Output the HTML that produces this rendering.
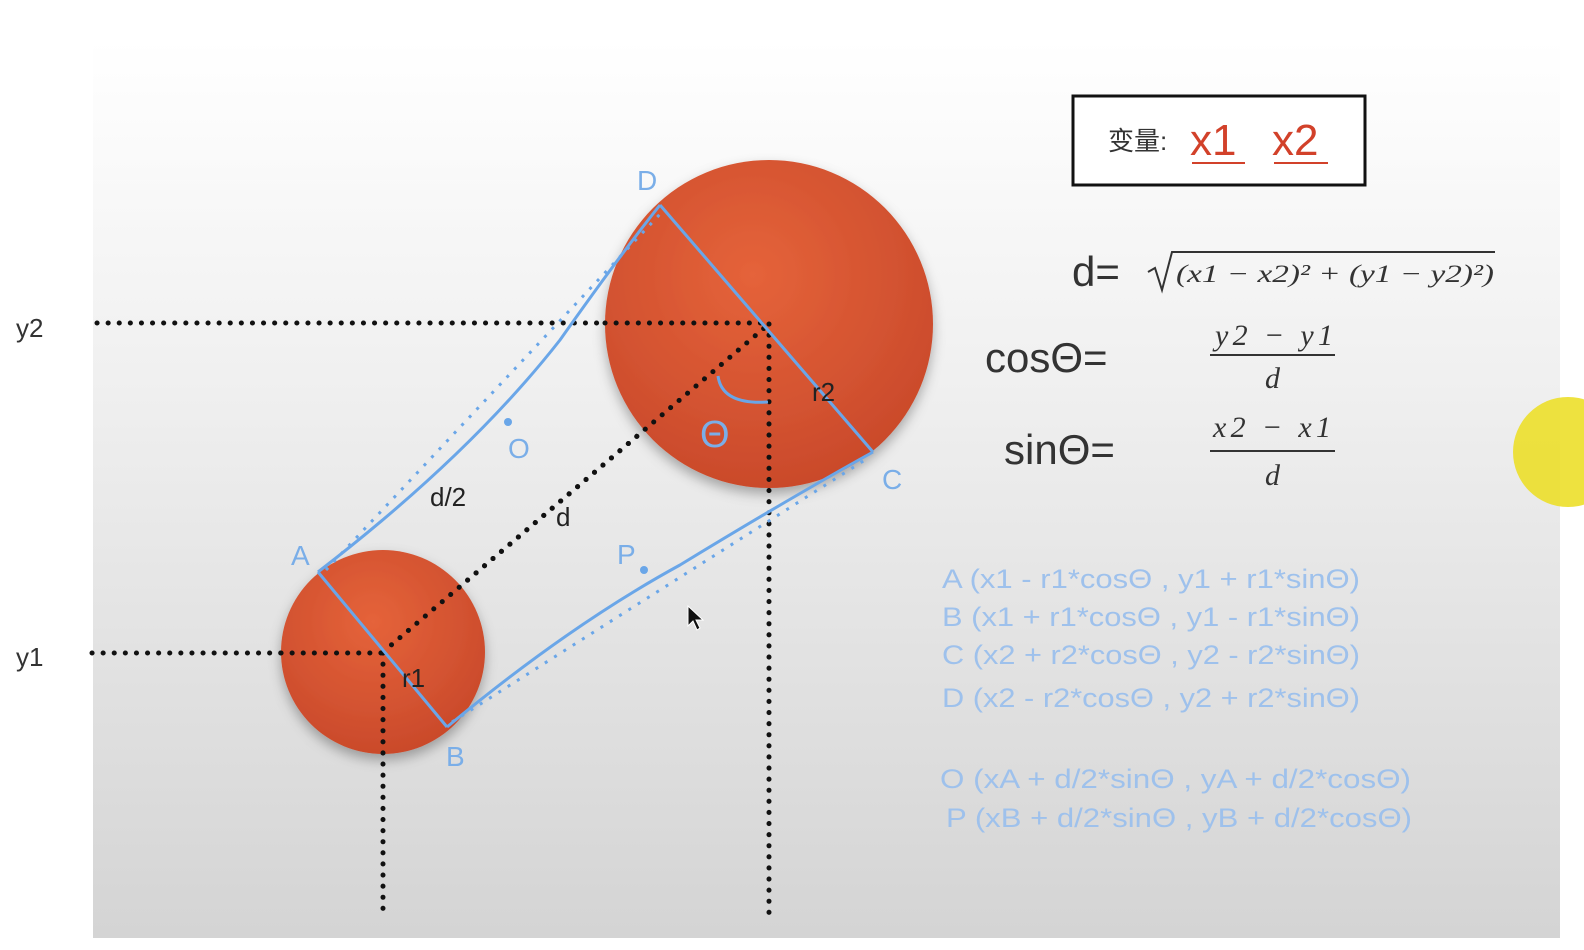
<!DOCTYPE html>
<html><head><meta charset="utf-8">
<style>
html,body{margin:0;padding:0;background:#fff;}
body{width:1584px;height:950px;position:relative;overflow:hidden;font-family:"Liberation Sans","Noto Sans CJK SC",sans-serif;}
svg{position:absolute;left:0;top:0;}
</style></head>
<body>
<svg width="1584" height="950" viewBox="0 0 1584 950">
<defs>
<linearGradient id="bg" x1="0" y1="0" x2="0" y2="1">
<stop offset="0" stop-color="#ffffff"/><stop offset="0.35" stop-color="#f1f1f1"/><stop offset="1" stop-color="#d4d4d4"/>
</linearGradient>
<radialGradient id="ball" cx="0.45" cy="0.35" r="0.7">
<stop offset="0" stop-color="#e5633a"/><stop offset="1" stop-color="#c8482a"/>
</radialGradient>
<filter id="sh" x="-20%" y="-20%" width="140%" height="140%"><feDropShadow dx="0" dy="6" stdDeviation="6" flood-color="#000" flood-opacity="0.3"/></filter>
</defs>
<rect x="93" y="40" width="1467" height="898" fill="url(#bg)"/>
<circle cx="1568" cy="452" r="55" fill="#ecdf2a" opacity="0.9"/>

<g stroke="#111" stroke-width="5" stroke-dasharray="0.1 11" stroke-linecap="round" fill="none">
<line x1="97" y1="323" x2="769" y2="323"/>
<line x1="92" y1="653" x2="383" y2="653"/>
<line x1="383" y1="653" x2="383" y2="918"/>
<line x1="769" y1="324" x2="769" y2="918"/>
<line x1="383" y1="652" x2="769" y2="324"/>
</g>

<circle cx="769" cy="324" r="164" fill="url(#ball)" filter="url(#sh)"/>
<circle cx="383" cy="652" r="102" fill="url(#ball)" filter="url(#sh)"/>
<g stroke="#111" stroke-width="5" stroke-dasharray="0.1 11" stroke-linecap="round" fill="none">
<line x1="383" y1="653" x2="383" y2="755"/>
<line x1="769" y1="324" x2="769" y2="488"/>
<line x1="383" y1="652" x2="769" y2="324"/>
<line x1="605" y1="323" x2="769" y2="323"/>
<line x1="281" y1="653" x2="383" y2="653"/>
</g>

<g stroke="#6aa6e8" stroke-width="3" fill="none">
<line x1="318" y1="572" x2="447" y2="727"/>
<line x1="660" y1="205" x2="873" y2="452"/>
<path d="M318 572 Q 470 455 560 340 Q 620 255 660 205"/>
<path d="M447 727 Q 570 625 680 565 Q 790 498 873 452"/>
<path d="M326 570 L662 212" stroke-dasharray="3 8" stroke-width="3"/>
<path d="M452 722 L868 458" stroke-dasharray="3 8" stroke-width="3"/>
<path d="M718 376 Q 722 405 768 402" stroke="#6aa6e8"/>
</g>
<circle cx="508" cy="422" r="4" fill="#6aa6e8"/>
<circle cx="644" cy="570" r="4" fill="#6aa6e8"/>

<g font-size="28" fill="#7aaee8">
<text x="637" y="190">D</text>
<text x="291" y="565">A</text>
<text x="446" y="766">B</text>
<text x="882" y="489">C</text>
<text x="508" y="458">O</text>
<text x="617" y="564">P</text>
<text x="700" y="447" font-size="38">Θ</text>
</g>
<g font-size="26" fill="#222">
<text x="430" y="506">d/2</text>
<text x="556" y="526">d</text>
<text x="402" y="687">r1</text>
<text x="812" y="401">r2</text>
<text x="16" y="337" fill="#333">y2</text>
<text x="16" y="666" fill="#333">y1</text>
</g>

<rect x="1073" y="96" width="292" height="89" fill="#fff" stroke="#111" stroke-width="3"/>
<text x="1108" y="150" font-size="26" fill="#333">变量:</text>
<text x="1190" y="155" font-size="44" fill="#d2412a">x1</text>
<text x="1272" y="155" font-size="44" fill="#d2412a">x2</text>
<line x1="1192" y1="163" x2="1245" y2="163" stroke="#d2412a" stroke-width="2"/>
<line x1="1274" y1="163" x2="1328" y2="163" stroke="#d2412a" stroke-width="2"/>

<g fill="#333">
<text x="1072" y="286" font-size="42">d=</text>
<path d="M1148 272 L1155 268 L1162 290 L1172 252 L1495 252" stroke="#333" stroke-width="2" fill="none"/>
<text x="1176" y="282" font-size="25" font-family="Liberation Serif,serif" font-style="italic" textLength="318" lengthAdjust="spacingAndGlyphs">(x1 − x2)² + (y1 − y2)²)</text>
<text x="985" y="372" font-size="42">cosΘ=</text>
<text x="1215" y="345" font-size="30" font-family="Liberation Serif,serif" font-style="italic" textLength="118">y2 − y1</text>
<line x1="1210" y1="355" x2="1335" y2="355" stroke="#333" stroke-width="2"/>
<text x="1265" y="388" font-size="30" font-family="Liberation Serif,serif" font-style="italic">d</text>
<text x="1004" y="464" font-size="42">sinΘ=</text>
<text x="1213" y="437" font-size="30" font-family="Liberation Serif,serif" font-style="italic" textLength="118">x2 − x1</text>
<line x1="1210" y1="451" x2="1335" y2="451" stroke="#333" stroke-width="2"/>
<text x="1265" y="485" font-size="30" font-family="Liberation Serif,serif" font-style="italic">d</text>
</g>
<g fill="#9ec1ec" font-size="27">
<text x="942" y="588" textLength="418" lengthAdjust="spacingAndGlyphs">A (x1 - r1*cosΘ , y1 + r1*sinΘ)</text>
<text x="942" y="626" textLength="418" lengthAdjust="spacingAndGlyphs">B (x1 + r1*cosΘ , y1 - r1*sinΘ)</text>
<text x="942" y="664" textLength="418" lengthAdjust="spacingAndGlyphs">C (x2 + r2*cosΘ , y2 - r2*sinΘ)</text>
<text x="942" y="707" textLength="418" lengthAdjust="spacingAndGlyphs">D (x2 - r2*cosΘ , y2 + r2*sinΘ)</text>
<text x="940" y="788" textLength="471" lengthAdjust="spacingAndGlyphs">O (xA + d/2*sinΘ , yA + d/2*cosΘ)</text>
<text x="946" y="827" textLength="466" lengthAdjust="spacingAndGlyphs">P (xB + d/2*sinΘ , yB + d/2*cosΘ)</text>
</g>
<path d="M688 606 L688 626 L693 621 L697 630 L700 628 L696 620 L703 620 Z" fill="#111" stroke="#fff" stroke-width="1"/>
</svg>
</body></html>
